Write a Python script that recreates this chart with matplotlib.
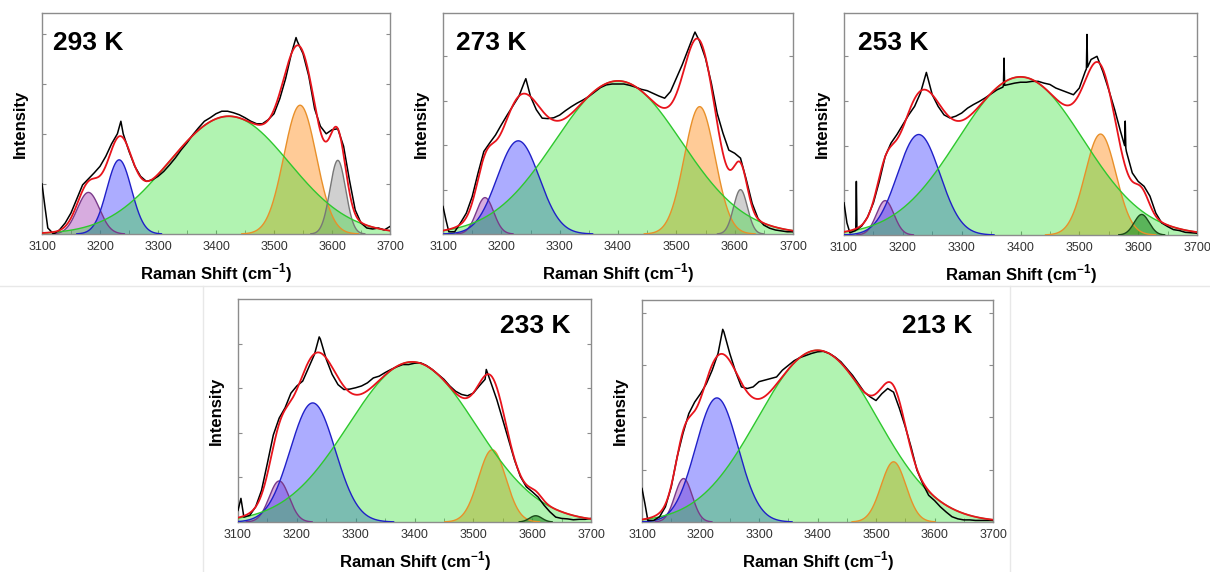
import numpy as np
import matplotlib
matplotlib.use("Agg")
import matplotlib.pyplot as plt

plt.rcParams['font.family'] = ['Liberation Sans', 'DejaVu Sans']
plt.rcParams['mathtext.fontset'] = 'custom'
plt.rcParams['mathtext.rm'] = 'Liberation Sans'
plt.rcParams['mathtext.bf'] = 'Liberation Sans:bold'

W, H = 1210, 572

# ---------------- data ----------------
temps = ['293 K', '273 K', '253 K', '233 K', '213 K']
x_ticks = [3100, 3200, 3300, 3400, 3500, 3600, 3700]
x_minor = [3150, 3250, 3350, 3450, 3550, 3650]

# measured spectrum sample positions (cm-1)
grid_x = [3100, 3105, 3110] + list(range(3120, 3701, 10))

black_293 = [1.0, 0.55, 0.12, 0.0, 0.08, 0.22, 0.42, 0.7, 0.98, 1.1, 1.22, 1.35, 1.55, 1.8, 2.0, 2.0,
             1.65, 1.35, 1.15, 1.05, 1.08, 1.15, 1.25, 1.38, 1.52, 1.68, 1.82, 1.98, 2.12, 2.25, 2.32,
             2.4, 2.45, 2.45, 2.42, 2.38, 2.32, 2.25, 2.2, 2.2, 2.28, 2.4, 2.7, 3.1, 3.6, 3.85, 3.6,
             3.15, 2.5, 2.15, 2.0, 2.08, 2.1, 1.75, 1.08, 0.48, 0.22, 0.12, 0.1, 0.12, 0.08, 0.15]
black_273 = [0.62, 0.32, 0.05, 0.05, 0.25, 0.47, 0.84, 1.37, 1.86, 2.05, 2.23, 2.46, 2.68, 2.89, 3.1, 3.44,
             3.1, 2.8, 2.61, 2.6, 2.62, 2.68, 2.78, 2.87, 2.95, 3.02, 3.1, 3.2, 3.3, 3.36, 3.38,
             3.38, 3.38, 3.35, 3.31, 3.26, 3.23, 3.17, 3.11, 3.06, 3.21, 3.51, 3.81, 4.15, 4.49, 4.34,
             3.96, 3.4, 2.72, 2.27, 1.89, 1.82, 1.71, 1.22, 0.69, 0.35, 0.2, 0.13, 0.09, 0.07, 0.05, 0.05]
black_253 = [0.72, 0.27, 0.05, 0.1, 0.2, 0.4, 0.72, 1.2, 1.76, 2.06, 2.25, 2.47, 2.69, 2.88, 3.18, 3.64,
             3.14, 2.88, 2.69, 2.62, 2.66, 2.73, 2.84, 2.92, 2.99, 3.07, 3.16, 3.25, 3.31, 3.37, 3.4,
             3.42, 3.42, 3.44, 3.44, 3.4, 3.37, 3.29, 3.24, 3.19, 3.14, 3.29, 3.66, 3.93, 4.0, 3.66,
             3.25, 2.81, 2.32, 1.87, 1.39, 1.2, 1.09, 0.87, 0.49, 0.27, 0.19, 0.12, 0.1, 0.06, 0.05, 0.04]
black_233 = [0.26, 0.53, 0.11, 0.15, 0.34, 0.71, 1.32, 1.95, 2.33, 2.56, 2.89, 3.05, 3.16, 3.46, 3.76, 4.1,
             3.65, 3.31, 3.08, 2.97, 2.98, 3.01, 3.05, 3.12, 3.23, 3.27, 3.35, 3.42, 3.48, 3.53, 3.53,
             3.56, 3.57, 3.51, 3.42, 3.31, 3.2, 3.05, 2.93, 2.86, 2.83, 2.89, 3.05, 3.2, 3.12, 2.74,
             2.29, 1.84, 1.39, 1.02, 0.79, 0.68, 0.56, 0.38, 0.23, 0.11, 0.08, 0.07, 0.05, 0.06, 0.06, 0.08]
black_213 = [0.64, 0.35, 0.03, 0.03, 0.1, 0.29, 0.67, 1.24, 1.69, 2.07, 2.29, 2.45, 2.64, 2.9, 3.22, 3.63,
             3.22, 2.87, 2.58, 2.55, 2.58, 2.68, 2.71, 2.74, 2.77, 2.9, 2.99, 3.08, 3.14, 3.18, 3.22,
             3.25, 3.26, 3.22, 3.15, 3.06, 2.93, 2.8, 2.64, 2.48, 2.39, 2.32, 2.45, 2.55, 2.48, 2.17,
             1.82, 1.43, 0.99, 0.73, 0.51, 0.41, 0.29, 0.19, 0.1, 0.06, 0.04, 0.04, 0.03, 0.03, 0.03, 0.03]

# sharp spikes in the measured spectra (x, y)
spike_x_293 = [3236, 3538]
spike_y_293 = [2.25, 3.92]
spike_x_273 = [3242, 3532]
spike_y_273 = [3.5, 4.55]
spike_x_253 = [3121, 3122, 3371, 3372, 3373, 3512, 3513, 3514, 3577, 3578, 3579]
spike_y_253 = [1.2, 0.12, 3.35, 3.96, 3.35, 3.72, 4.49, 3.76, 2.0, 2.55, 1.95]
spike_x_233 = [3238, 3522]
spike_y_233 = [4.15, 3.42]
spike_x_213 = [3238]
spike_y_213 = [3.68]

# fitted Gaussian components: kind, centre (cm-1), height, FWHM (cm-1)
kinds_293 = ['purple', 'blue', 'orange', 'gray', 'green']
centre_293 = [3180, 3233, 3545, 3610, 3422]
height_293 = [0.83, 1.48, 2.57, 1.47, 2.35]
fwhm_293 = [45, 50, 66, 32, 245]

kinds_273 = ['purple', 'blue', 'orange', 'gray', 'green']
centre_273 = [3172, 3229, 3540, 3610, 3400]
height_273 = [0.82, 2.1, 2.87, 1.0, 3.45]
fwhm_273 = [35, 85, 62, 28, 255]

kinds_253 = ['purple', 'blue', 'orange', 'dkgreen', 'green']
centre_253 = [3170, 3227, 3536, 3606, 3400]
height_253 = [0.77, 2.25, 2.26, 0.46, 3.54]
fwhm_253 = [35, 85, 62, 30, 250]

kinds_233 = ['purple', 'blue', 'orange', 'dkgreen', 'green']
centre_233 = [3170, 3227, 3532, 3606, 3396]
height_233 = [0.92, 2.67, 1.62, 0.14, 3.59]
fwhm_233 = [40, 90, 55, 25, 255]

kinds_213 = ['purple', 'blue', 'orange', 'green']
centre_213 = [3171, 3228, 3530, 3400]
height_213 = [0.83, 2.37, 1.15, 3.28]
fwhm_213 = [35, 85, 50, 240]

y_top = [4.41, 4.98, 4.97, 5.0, 4.24]

# ---------------- styles ----------------
styles = {
    'purple': ('#9b30b0', 0.40, '#7a3a8a'),
    'blue': ('#3030ff', 0.40, '#2020c8'),
    'orange': ('#ff8c1a', 0.45, '#e8902a'),
    'gray': ('#8a8a8a', 0.40, '#777777'),
    'dkgreen': ('#1f5f1f', 0.60, '#1a4a1a'),
    'green': ('#22dd22', 0.35, '#2ec82e'),
}

# axes boxes in pixels: left, top, right, bottom
boxes = [(42, 13, 390, 234), (443, 13, 793, 234), (844, 13, 1197, 235),
         (238, 299, 591, 522), (642, 300, 993, 522)]
label_pos = [(53, 43, 'left'), (456, 43, 'left'), (858, 43, 'left'),
             (570, 326, 'right'), (972, 326, 'right')]

panels = [
    (black_293, spike_x_293, spike_y_293, kinds_293, centre_293, height_293, fwhm_293),
    (black_273, spike_x_273, spike_y_273, kinds_273, centre_273, height_273, fwhm_273),
    (black_253, spike_x_253, spike_y_253, kinds_253, centre_253, height_253, fwhm_253),
    (black_233, spike_x_233, spike_y_233, kinds_233, centre_233, height_233, fwhm_233),
    (black_213, spike_x_213, spike_y_213, kinds_213, centre_213, height_213, fwhm_213),
]

fig = plt.figure(figsize=(W / 100, H / 100), dpi=100)

# faint borders of the composed image
fig.add_artist(plt.Line2D([0, 1], [1 - 286 / H, 1 - 286 / H], color='#e8e8e8', lw=1))
fig.add_artist(plt.Line2D([203 / W, 203 / W], [0, 1 - 286 / H], color='#e8e8e8', lw=1))
fig.add_artist(plt.Line2D([1010 / W, 1010 / W], [0, 1 - 286 / H], color='#e8e8e8', lw=1))

xf = np.linspace(3100, 3700, 1201)


def gauss(x, c, h, w):
    return h * np.exp(-4 * np.log(2) * (x - c) ** 2 / w ** 2)


for i, (blk, sx, sy, kinds, cen, hei, fw) in enumerate(panels):
    l, t, r, b = boxes[i]
    ax = fig.add_axes([l / W, 1 - b / H, (r - l) / W, (b - t) / H])
    total = np.zeros_like(xf)
    for k, c, h, w in zip(kinds, cen, hei, fw):
        y = gauss(xf, c, h, w)
        total += y
        face, alpha, edge = styles[k]
        m = y > 0.004
        ax.fill_between(xf[m], 0, y[m], facecolor=face, alpha=alpha, lw=0, zorder=2)
        ax.plot(xf[m], y[m], color=edge, lw=1.0, zorder=3)
    # measured spectrum
    bx = np.array(grid_x + sx, dtype=float)
    by = np.array(blk + sy, dtype=float)
    order = np.argsort(bx, kind='stable')
    ax.plot(bx[order], by[order], color='black', lw=1.1, zorder=4)
    ax.plot(xf, total, color='#e8141c', lw=1.3, zorder=5)

    ax.set_xlim(3100, 3700)
    ax.set_ylim(0, y_top[i])
    ax.set_xticks(x_ticks)
    ax.set_xticks(x_minor, minor=True)
    ax.set_xticklabels([str(v) for v in x_ticks])
    ax.set_yticks([1, 2, 3, 4])
    ax.set_yticklabels([])
    ax.tick_params(axis='x', which='both', direction='in', length=3, color='#8c8c8c',
                   labelcolor='#333333', labelsize=9, pad=5)
    ax.tick_params(axis='y', direction='in', length=3, color='#8c8c8c', left=True, right=True)
    for s in ax.spines.values():
        s.set_color('#8c8c8c')
        s.set_linewidth(1.0)

    tx, ty, ha = label_pos[i]
    fig.text(tx / W, 1 - ty / H, temps[i], fontsize=19, fontweight='bold',
             ha=ha, va='center')
    # axis titles
    fig.text((l - 22) / W, 1 - ((t + b) / 2) / H, 'Intensity', rotation=90,
             fontsize=12, fontweight='bold', ha='center', va='center')
    fig.text(((l + r) / 2) / W, 1 - (b + 39) / H, r'Raman Shift (cm$^{\mathbf{-1}}$)',
             fontsize=12, fontweight='bold', ha='center', va='center')

fig.savefig('out.png', dpi=100)
